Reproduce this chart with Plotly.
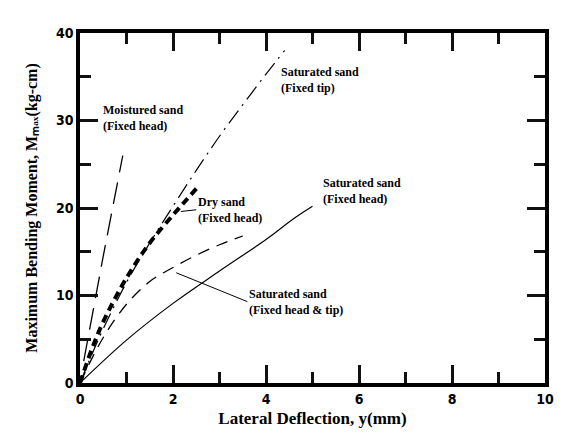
import plotly.graph_objects as go

# Saturated sand (Fixed tip)
tip_x = [0, 0.25, 0.5, 1.0, 1.5, 2.0, 2.5, 3.0, 3.5, 4.0, 4.4]
tip_y = [0, 3.2, 6.2, 11.5, 16.0, 20.2, 24.3, 28.2, 31.8, 35.3, 38.0]
# Dry sand (Fixed head)
dry_x = [0, 0.25, 0.5, 1.0, 1.5, 2.0, 2.3, 2.55]
dry_y = [0, 3.8, 7.0, 12.0, 16.0, 19.2, 21.0, 22.5]
# Moistured sand (Fixed head)
moist_x = [0.08, 0.5, 0.92]
moist_y = [2.5, 14.5, 26.0]
# Saturated sand (Fixed head)
head_x = [0, 1.0, 2.0, 3.0, 4.0, 4.6, 5.0]
head_y = [0, 4.9, 9.1, 12.8, 16.4, 18.8, 20.2]
# Saturated sand (Fixed head & tip)
both_x = [0, 0.5, 1.0, 1.5, 2.0, 2.5, 3.0, 3.5]
both_y = [0, 5.2, 9.0, 11.6, 13.2, 14.6, 15.8, 16.8]

serif = "Liberation Serif, Times New Roman, serif"
tickfont = dict(family="Liberation Sans Narrow, DejaVu Sans Condensed, Arial", size=14, color="black", weight="bold")
TK = "#111111"

fig = go.Figure()
fig.add_trace(go.Scatter(x=tip_x, y=tip_y, mode="lines", line=dict(color="black", width=1.2, dash="16px,6px,2px,6px"), line_shape="spline"))
fig.add_trace(go.Scatter(x=dry_x, y=dry_y, mode="lines", line=dict(color="black", width=4, dash="8px,5px"), line_shape="spline"))
fig.add_trace(go.Scatter(x=moist_x, y=moist_y, mode="lines", line=dict(color="black", width=1.3, dash="22px,10px")))
fig.add_trace(go.Scatter(x=head_x, y=head_y, mode="lines", line=dict(color="black", width=1.2), line_shape="spline"))
fig.add_trace(go.Scatter(x=both_x, y=both_y, mode="lines", line=dict(color="black", width=1.3, dash="12px,8px"), line_shape="spline"))

def note(x, y, text, px=None, py=None):
    kw = dict(showarrow=False)
    if px is not None:
        kw = dict(showarrow=True, ax=x, ay=y, axref="x", ayref="y", arrowhead=0,
                  arrowwidth=1, arrowcolor="black", standoff=0, startstandoff=0)
        x, y = px, py
    fig.add_annotation(x=x, y=y, text=text, xanchor="left", yanchor="middle",
                       align="left", font=dict(family=serif, size=12, color="black"), **kw)

note(4.27, 34.6, "<b>Saturated sand<br>(Fixed tip)</b>")
note(0.45, 30.3, "<b>Moistured sand<br>(Fixed head)</b>")
note(2.5, 19.8, "<b>Dry sand<br>(Fixed head)</b>", 2.17, 19.6)
note(5.18, 22.0, "<b>Saturated sand<br>(Fixed head)</b>")
note(3.6, 9.3, "<b>Saturated sand<br>(Fixed head &amp; tip)</b>", 2.07, 12.6)

fig.update_xaxes(range=[0, 10], dtick=2, tick0=0, tickmode="linear", ticks="inside", ticklen=18, tickwidth=3, tickcolor=TK,
                 showline=True, linecolor="black", linewidth=3.5, mirror="ticks", tickfont=tickfont,
                 minor=dict(ticks="inside", ticklen=11, tickwidth=3, tickcolor=TK, dtick=1, tick0=0),
                 title=dict(text="<b>Lateral Deflection, y(mm)</b>", font=dict(family=serif, size=17, color="black"), standoff=8))
fig.update_yaxes(range=[0, 40], dtick=10, tick0=0, tickmode="linear", ticks="inside", ticklen=18, tickwidth=3, tickcolor=TK,
                 showline=True, linecolor="black", linewidth=3.5, mirror="ticks", tickfont=tickfont,
                 minor=dict(ticks="inside", ticklen=11, tickwidth=3, tickcolor=TK, dtick=5, tick0=0),
                 title=dict(text="<b>Maximum Bending Moment, M\u2098\u2090\u2093(kg-cm)</b>", font=dict(family=serif, size=16, color="black")))

fig.update_layout(width=564, height=448, margin=dict(l=80, r=10, t=33, b=65),
                  plot_bgcolor="white", paper_bgcolor="white", showlegend=False)

fig.write_html("out.html")
